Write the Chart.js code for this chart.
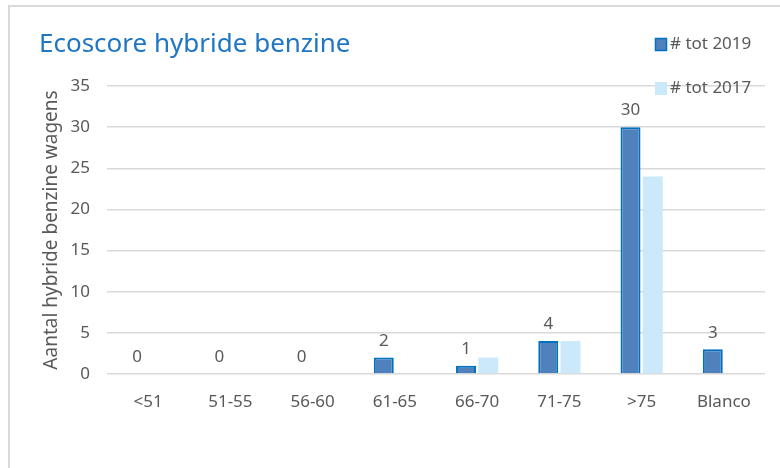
<!DOCTYPE html>
<html>
<head>
<meta charset="utf-8">
<script src="https://cdn.jsdelivr.net/npm/chart.js@4.4.1/dist/chart.umd.min.js"></script>
<style>
  html, body { margin: 0; padding: 0; background: #fff; }
  #wrap { position: relative; width: 780px; height: 468px; }
  #frame { position: absolute; left: 8px; top: 5px; right: 0; bottom: 0;
           border-left: 2px solid #d9d9d9; border-top: 2px solid #d9d9d9; }
  canvas { position: absolute; left: 0; top: 0; }
</style>
</head>
<body>
<div id="wrap">
  <div id="frame"></div>
  <canvas id="chart"></canvas>
</div>
<script>
const categories = ['<51', '51-55', '56-60', '61-65', '66-70', '71-75', '>75', 'Blanco'];
const tot2019 = [0, 0, 0, 2, 1, 4, 30, 3];
const tot2017 = [0, 0, 0, 0, 2, 4, 24, 0];
const yTicks = [0, 5, 10, 15, 20, 25, 30, 35];

const FONT = '"Noto Sans", "Open Sans", sans-serif';
const GREY = '#595959';

// titel, legende en waardelabels zelf tekenen
const extras = {
  id: 'extras',
  afterDatasetsDraw(chart) {
    const ctx = chart.ctx;
    ctx.save();

    // titel
    ctx.fillStyle = '#1f76c2';
    ctx.font = '26px ' + FONT;
    ctx.textAlign = 'left';
    ctx.textBaseline = 'middle';
    ctx.fillText('Ecoscore hybride benzine', 39, 45);

    // legende
    ctx.font = '17px ' + FONT;
    chart.data.datasets.forEach((ds, i) => {
      const y = 44 + i * 44;
      ctx.fillStyle = ds.backgroundColor;
      ctx.fillRect(655, y - 6, 12, 13);
      if (i === 0) {
        ctx.strokeStyle = ds.borderColor;
        ctx.lineWidth = 1.5;
        ctx.strokeRect(655.5, y - 5.5, 11, 12);
      }
      ctx.fillStyle = GREY;
      ctx.fillText(ds.label, 670, y);
    });

    // waardelabels boven 2019
    const meta = chart.getDatasetMeta(0);
    ctx.font = '17px ' + FONT;
    ctx.textAlign = 'center';
    ctx.textBaseline = 'bottom';
    meta.data.forEach((bar, i) => {
      ctx.fillText(String(tot2019[i]), bar.x, bar.y - 8);
    });
    ctx.restore();
  }
};

new Chart(document.getElementById('chart'), {
  type: 'bar',
  data: {
    labels: categories,
    datasets: [
      {
        label: '# tot 2019',
        data: tot2019,
        backgroundColor: '#4f81bd',
        borderColor: '#0070c0',
        borderWidth: c => (c.raw === 0 ? 0 : 2),
        borderSkipped: 'bottom'
      },
      {
        label: '# tot 2017',
        data: tot2017,
        backgroundColor: '#cce8fb',
        borderWidth: 0
      }
    ]
  },
  options: {
    responsive: true,
    maintainAspectRatio: false,
    animation: false,
    devicePixelRatio: 1,
    layout: { padding: { left: 36, right: 15, top: 86, bottom: 40 } },
    datasets: { bar: { categoryPercentage: 0.54, barPercentage: 0.9 } },
    plugins: { legend: { display: false }, title: { display: false }, tooltip: { enabled: false } },
    scales: {
      x: {
        grid: { display: false },
        border: { display: false },
        ticks: { color: GREY, font: { family: FONT, size: 17 }, padding: 10, maxRotation: 0, autoSkip: false },
        afterFit: s => { s.height = 54; }
      },
      y: {
        min: 0,
        max: 35,
        afterBuildTicks: s => { s.ticks = yTicks.map(v => ({ value: v })); },
        grid: { color: '#d9d9d9', lineWidth: 1.5, drawTicks: false },
        border: { display: false },
        ticks: { color: GREY, font: { family: FONT, size: 17 }, padding: 17 },
        title: {
          display: true,
          text: 'Aantal hybride benzine wagens',
          color: GREY,
          font: { family: FONT, size: 19 },
          padding: { top: 4, bottom: 4 }
        },
        afterFit: s => { s.width = 71; }
      }
    }
  },
  plugins: [extras]
});
</script>
</body>
</html>
